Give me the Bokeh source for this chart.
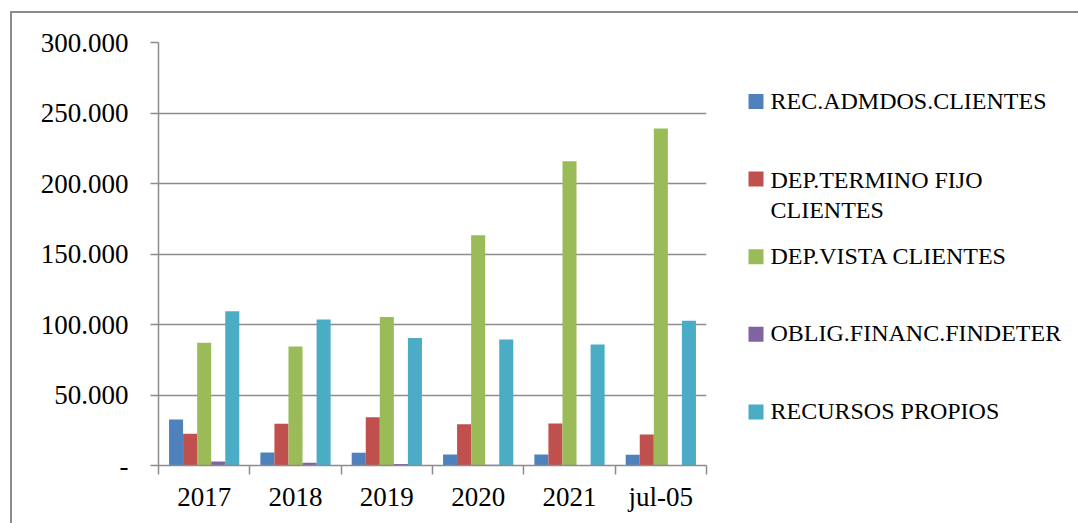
from bokeh.plotting import figure
from bokeh.layouts import row
from bokeh.models import Range1d, FixedTicker, LinearAxis, Grid, ColumnDataSource
from bokeh.core.properties import value
from bokeh.embed import file_html
from bokeh.resources import INLINE

categories = ["2017", "2018", "2019", "2020", "2021", "jul-05"]
series_names = ["REC.ADMDOS.CLIENTES", "DEP.TERMINO FIJO\nCLIENTES", "DEP.VISTA CLIENTES",
                "OBLIG.FINANC.FINDETER", "RECURSOS PROPIOS"]
rec_admdos = [32600, 9200, 9000, 7800, 7800, 7600]
dep_termino = [22500, 29600, 34300, 29300, 29800, 22000]
dep_vista = [87000, 84400, 105400, 163300, 215800, 239000]
oblig_findeter = [2800, 2000, 1000, 500, 0, 0]
recursos_propios = [109400, 103500, 90500, 89400, 85800, 102600]
y_ticks = [0, 50000, 100000, 150000, 200000, 250000, 300000]
y_tick_labels = ["-", "50.000", "100.000", "150.000", "200.000", "250.000", "300.000"]

series = [rec_admdos, dep_termino, dep_vista, oblig_findeter, recursos_propios]
colors = ["#4F81BD", "#C0504D", "#9BBB59", "#8064A2", "#4BACC6"]

FONT = "Liberation Serif"
GRID = "#8C8C8C"
TOP, LEFT = 42, 158
FW, FH = 548, 423
CH_W, H = 720, 523
LEG_W = 1078 - CH_W

p = figure(width=CH_W, height=H, frame_width=FW, frame_height=FH,
           x_range=Range1d(0, len(categories)), y_range=Range1d(0, 300000),
           output_backend="svg", toolbar_location=None,
           min_border_left=LEFT, min_border_top=TOP, min_border_bottom=H - TOP - FH,
           min_border_right=CH_W - LEFT - FW,
           x_axis_type=None, y_axis_type=None)
p.outline_line_color = None
p.background_fill_color = "white"
p.border_fill_color = None

# y axis
yax = LinearAxis(ticker=FixedTicker(ticks=y_ticks, minor_ticks=[]))
yax.major_label_overrides = {t: l for t, l in zip(y_ticks, y_tick_labels)}
yax.axis_line_color = GRID
yax.axis_line_width = 1.5
yax.major_tick_line_color = GRID
yax.major_tick_line_width = 1.5
yax.major_tick_out = 8
yax.major_tick_in = 0
yax.major_label_standoff = 22
yax.major_label_text_font = FONT
yax.major_label_text_font_size = "27px"
yax.major_label_text_color = "#000000"
p.add_layout(yax, "left")

# x axis: labels at category centres, ticks at category boundaries
centers = [i + 0.5 for i in range(len(categories))]
bounds = [float(i) for i in range(len(categories) + 1)]
xax = LinearAxis(ticker=FixedTicker(ticks=centers, minor_ticks=bounds))
xax.major_label_overrides = {c: n for c, n in zip(centers, categories)}
xax.axis_line_color = GRID
xax.axis_line_width = 1.5
xax.major_tick_line_color = None
xax.major_tick_out = 0
xax.major_tick_in = 0
xax.minor_tick_line_color = GRID
xax.minor_tick_line_width = 1.5
xax.minor_tick_out = 9
xax.minor_tick_in = 0
xax.major_label_standoff = 7
xax.major_label_text_font = FONT
xax.major_label_text_font_size = "27px"
xax.major_label_text_color = "#000000"
p.add_layout(xax, "below")

g = Grid(dimension=1, ticker=FixedTicker(ticks=y_ticks[1:]))
g.grid_line_color = GRID
g.grid_line_width = 1.5
p.add_layout(g)

# bars (Excel-style gap width 150%)
n = len(series)
w = 1.0 / (n + 1.5)
for k, (vals, col) in enumerate(zip(series, colors)):
    off = (k - (n - 1) / 2) * w
    src = ColumnDataSource(dict(x=[i + 0.5 + off for i in range(len(categories))], top=vals))
    p.vbar(x="x", top="top", bottom=0, width=w, source=src, fill_color=col, line_color=None)

# legend figure: its frame is aligned with the chart frame by the row layout,
# so its ranges map directly to page pixels (y downward)
lg = figure(width=LEG_W, height=H, x_range=Range1d(0, LEG_W), y_range=Range1d(TOP + FH, TOP),
            output_backend="svg", toolbar_location=None,
            min_border=0, x_axis_type=None, y_axis_type=None)
lg.outline_line_color = None
lg.background_fill_color = None
lg.border_fill_color = None
lg.xgrid.visible = False
lg.ygrid.visible = False

leg_centers = [101 + 77.6 * i for i in range(n)]
lg.rect(x=[35.5] * n, y=leg_centers, width=15, height=15, fill_color=colors, line_color=None)
tx, ty, tt = [], [], []
for name, yc in zip(series_names, leg_centers):
    lines = name.split("\n")
    first = yc - 1 if len(lines) == 1 else yc + 0.5
    for j, ln in enumerate(lines):
        tx.append(50)
        ty.append(first + 30 * j)
        tt.append(ln)
lg.text(x=tx, y=ty, text=tt, text_font=value(FONT), text_font_size="24px",
        text_baseline="alphabetic", text_align="left", text_color="#000000")

layout = row(p, lg)
layout.styles = {
    "background": ("linear-gradient(#8C8C8C,#8C8C8C) 10px 11px / 2px 600px no-repeat, "
                   "linear-gradient(#8C8C8C,#8C8C8C) 10px 11px / 1200px 2px no-repeat, white"),
}

open("out.html", "w").write(file_html(layout, INLINE))
